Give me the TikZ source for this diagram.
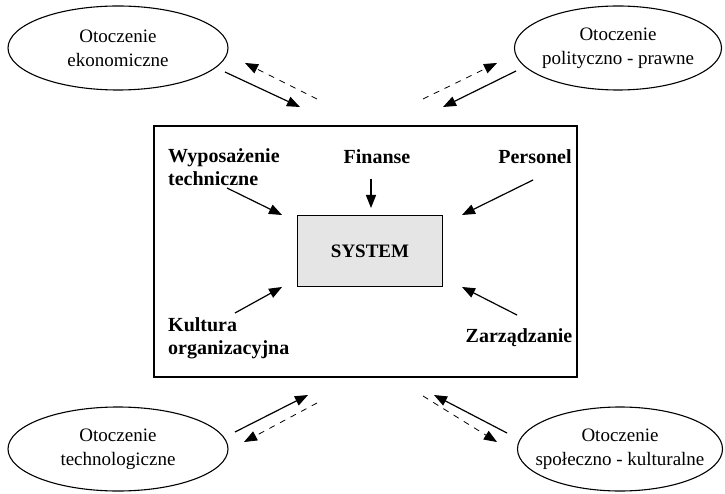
\documentclass[tikz,border=0pt]{standalone}
\usepackage{fontspec}
\setmainfont{Liberation Serif}
\usetikzlibrary{arrows.meta,shapes.geometric}

\begin{document}
\begin{tikzpicture}[x=1pt,y=-1pt,
    otoczenie/.style={ellipse,draw,line width=1.1pt,inner sep=-20pt,align=center,
        minimum height=84pt,font=\fontsize{19}{24}\selectfont},
    czynnik/.style={inner sep=0pt,align=left,font=\bfseries\fontsize{20}{23}\selectfont},
    wplyw/.style={line width=1.2pt,-{Triangle[length=13pt,width=10pt]}},
    zwrot/.style={wplyw,line width=0.8pt,dash pattern=on 6pt off 6pt}]
        \useasboundingbox (0,0) rectangle (725,494);
        % organizacja i jej czynniki
        \draw [line width=2.2pt] (154,126) rectangle (577,377);
        \node [draw,line width=1.6pt,fill=gray!20,minimum width=145pt,minimum height=71pt,
            font=\bfseries\fontsize{19}{23}\selectfont] (system) at (370,251) {SYSTEM};
        \node [czynnik,anchor=west] (wyp) at (168,167) {Wyposażenie\\techniczne};
        \node [czynnik] (fin) at (377,157) {Finanse};
        \node [czynnik] (per) at (535,157) {Personel};
        \node [czynnik,anchor=west] (kul) at (168,338) {Kultura\\organizacyjna};
        \node [czynnik] (zar) at (519,338) {Zarządzanie};
        \coordinate (wypA) at (227,188);
        \coordinate (wypB) at (282,215);
        \coordinate (finA) at (371,179);
        \coordinate (finB) at (371,208);
        \coordinate (perA) at (533,180);
        \coordinate (perB) at (462,215);
        \coordinate (kulA) at (235,313);
        \coordinate (kulB) at (282,287);
        \coordinate (zarA) at (517,315);
        \coordinate (zarB) at (462,287);
        \draw [wplyw] (wypA) -- (wypB);
        \draw [wplyw] (finA) -- (finB);
        \draw [wplyw] (perA) -- (perB);
        \draw [wplyw] (kulA) -- (kulB);
        \draw [wplyw] (zarA) -- (zarB);
        % otoczenie
        \node [otoczenie,minimum width=220pt] (eko) at (118,48) {Otoczenie\\ekonomiczne};
        \node [otoczenie,minimum width=207pt] (pol) at (618,48) {Otoczenie\\polityczno - prawne};
        \node [otoczenie,minimum width=220pt] (tec) at (118,449) {Otoczenie\\technologiczne};
        \node [otoczenie,minimum width=205pt] (spo) at (620,449) {Otoczenie\\społeczno - kulturalne};
        \coordinate (ekoA) at (225,72);
        \coordinate (ekoB) at (300,107);
        \coordinate (ekoC) at (317,99);
        \coordinate (ekoD) at (245,63);
        \coordinate (polA) at (516,71);
        \coordinate (polB) at (443,107);
        \coordinate (polC) at (423,99);
        \coordinate (polD) at (497,63);
        \coordinate (tecA) at (235,432);
        \coordinate (tecB) at (308,395);
        \coordinate (tecC) at (317,403);
        \coordinate (tecD) at (244,442);
        \coordinate (spoA) at (507,433);
        \coordinate (spoB) at (434,395);
        \coordinate (spoC) at (423,396);
        \coordinate (spoD) at (497,442);
        \draw [wplyw] (ekoA) -- (ekoB);
        \draw [zwrot] (ekoC) -- (ekoD);
        \draw [wplyw] (polA) -- (polB);
        \draw [zwrot] (polC) -- (polD);
        \draw [wplyw] (tecA) -- (tecB);
        \draw [zwrot] (tecC) -- (tecD);
        \draw [wplyw] (spoA) -- (spoB);
        \draw [zwrot] (spoC) -- (spoD);
    \end{tikzpicture}
\end{document}
